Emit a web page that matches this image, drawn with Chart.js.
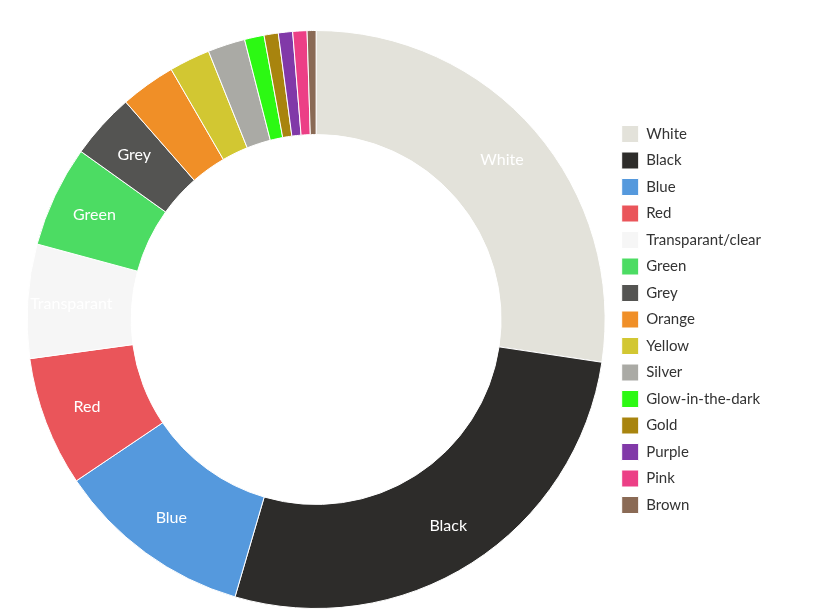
<!DOCTYPE html>
<html>
<head>
<meta charset="utf-8">
<script src="https://cdn.jsdelivr.net/npm/chart.js@4"></script>
<style>
  html, body { margin: 0; padding: 0; background: #fff; }
  #wrap { width: 823px; height: 611px; }
</style>
</head>
<body>
<div id="wrap"><canvas id="c"></canvas></div>
<script>
// Colour categories and their share (%)
const labels = ['White', 'Black', 'Blue', 'Red', 'Transparant/clear', 'Green', 'Grey', 'Orange',
  'Yellow', 'Silver', 'Glow-in-the-dark', 'Gold', 'Purple', 'Pink', 'Brown'];
const values = [27.5, 27.3, 11.1, 7.3, 6.4, 5.7, 3.7, 3.1, 2.3, 2.1, 1.1, 0.8, 0.8, 0.8, 0.5];
const colors = ['#e3e2da', '#2d2c2a', '#5599dd', '#ea555a', '#f6f6f6', '#4cdc63', '#545452', '#f08f27',
  '#d2c732', '#aaaaa5', '#2cf913', '#a8840e', '#8139a8', '#ec3f86', '#8a6a55'];
// slices that carry an inside label
const sliceLabels = ['White', 'Black', 'Blue', 'Red', 'Transparant', 'Green', 'Grey'];

const FONT = 'Lato, "Open Sans", sans-serif';

// Draw white labels inside the larger slices
const sliceLabelPlugin = {
  id: 'sliceLabels',
  afterDatasetsDraw(chart) {
    const ctx = chart.ctx;
    const meta = chart.getDatasetMeta(0);
    ctx.save();
    ctx.fillStyle = '#ffffff';
    ctx.font = '16px ' + FONT;
    ctx.textAlign = 'center';
    ctx.textBaseline = 'middle';
    sliceLabels.forEach((txt, i) => {
      const arc = meta.data[i];
      const mid = (arc.startAngle + arc.endAngle) / 2;
      const r = arc.innerRadius + (arc.outerRadius - arc.innerRadius) * 0.58;
      ctx.fillText(txt, arc.x + Math.cos(mid) * r, arc.y + Math.sin(mid) * r);
    });
    ctx.restore();
  }
};

new Chart(document.getElementById('c'), {
  type: 'doughnut',
  data: {
    labels: labels,
    datasets: [{
      data: values,
      backgroundColor: colors,
      borderColor: '#ffffff',
      borderWidth: 1
    }]
  },
  options: {
    responsive: true,
    maintainAspectRatio: false,
    animation: false,
    cutout: '64%',
    layout: { padding: { left: 20, top: 30, bottom: 2, right: 52 } },
    plugins: {
      tooltip: { enabled: false },
      legend: {
        position: 'right',
        labels: {
          boxWidth: 17,
          boxHeight: 17,
          padding: 9.5,
          color: '#333',
          font: { size: 15, family: FONT }
        }
      }
    }
  },
  plugins: [sliceLabelPlugin]
});
</script>
</body>
</html>
